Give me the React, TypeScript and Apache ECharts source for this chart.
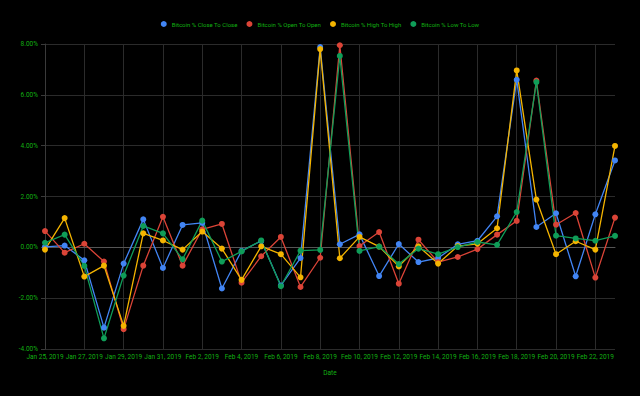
import React, { useEffect, useRef } from "react";
import * as echarts from "echarts";

const dates = [
  "Jan 25, 2019", "Jan 26, 2019", "Jan 27, 2019", "Jan 28, 2019", "Jan 29, 2019",
  "Jan 30, 2019", "Jan 31, 2019", "Feb 1, 2019", "Feb 2, 2019", "Feb 3, 2019",
  "Feb 4, 2019", "Feb 5, 2019", "Feb 6, 2019", "Feb 7, 2019", "Feb 8, 2019",
  "Feb 9, 2019", "Feb 10, 2019", "Feb 11, 2019", "Feb 12, 2019", "Feb 13, 2019",
  "Feb 14, 2019", "Feb 15, 2019", "Feb 16, 2019", "Feb 17, 2019", "Feb 18, 2019",
  "Feb 19, 2019", "Feb 20, 2019", "Feb 21, 2019", "Feb 22, 2019", "Feb 23, 2019",
];

const closeToClose = [
  0.02, 0.07, -0.51, -3.16, -0.64, 1.1, -0.81, 0.88, 0.96, -1.62,
  -0.14, 0.25, -1.5, -0.42, 7.88, 0.12, 0.51, -1.13, 0.13, -0.58,
  -0.42, 0.12, 0.26, 1.22, 6.59, 0.8, 1.34, -1.14, 1.3, 3.42,
];
const openToOpen = [
  0.64, -0.21, 0.14, -0.56, -3.22, -0.72, 1.2, -0.72, 0.71, 0.92,
  -1.39, -0.35, 0.41, -1.56, -0.41, 7.95, 0.05, 0.6, -1.43, 0.3,
  -0.58, -0.38, -0.07, 0.5, 1.04, 6.56, 0.89, 1.35, -1.19, 1.17,
];
const highToHigh = [
  -0.09, 1.15, -1.15, -0.72, -3.09, 0.55, 0.27, -0.09, 0.62, -0.05,
  -1.28, 0.04, -0.27, -1.18, 7.8, -0.43, 0.41, 0.03, -0.75, 0.04,
  -0.64, 0.05, 0.14, 0.75, 6.96, 1.88, -0.27, 0.24, -0.09, 3.99,
];
const lowToLow = [
  0.18, 0.5, -0.73, -3.58, -1.11, 0.84, 0.55, -0.47, 1.05, -0.56,
  -0.16, 0.27, -1.53, -0.13, -0.1, 7.53, -0.14, 0.03, -0.66, -0.05,
  -0.27, 0.01, 0.21, 0.1, 1.39, 6.5, 0.46, 0.35, 0.26, 0.45,
];

const seriesNames = [
  "Bitcoin % Close To Close",
  "Bitcoin % Open To Open",
  "Bitcoin % High To High",
  "Bitcoin % Low To Low",
];
const seriesColors = ["#4285F4", "#DB4437", "#F4B400", "#0F9D58"];
const seriesData = [closeToClose, openToOpen, highToHigh, lowToLow];

const textGreen = "#12b012";
const FONT = "Roboto, sans-serif";

export default function App() {
  const ref = useRef<HTMLDivElement>(null);
  useEffect(() => {
    if (!ref.current) return;
    const chart = echarts.init(ref.current, undefined, { renderer: "svg" });
    chart.setOption({
      animation: false,
      backgroundColor: "#000000",
      textStyle: { fontFamily: FONT },
      legend: {
        top: 16,
        left: "center",
        icon: "circle",
        itemWidth: 6,
        itemHeight: 6,
        itemGap: 9,
        textStyle: { color: textGreen, fontSize: 6, fontFamily: FONT },
        data: seriesNames,
      },
      grid: { left: 45, right: 25, top: 44, bottom: 47 },
      xAxis: {
        type: "category",
        data: dates,
        boundaryGap: false,
        name: "Date",
        nameLocation: "middle",
        nameGap: 20,
        nameTextStyle: { color: textGreen, fontSize: 6.5, fontFamily: FONT },
        axisLine: { show: true, lineStyle: { color: "#555555", width: 1 } },
        axisTick: { show: false },
        axisLabel: { interval: 1, color: textGreen, fontSize: 6.5, margin: 4, fontFamily: FONT },
        splitLine: { show: true, interval: 1, lineStyle: { color: "#2b2b2b", width: 1 } },
      },
      yAxis: {
        type: "value",
        min: -4,
        max: 8,
        interval: 2,
        axisLine: { show: true, lineStyle: { color: "#3a3a3a" } },
        axisTick: { show: true, length: 4, lineStyle: { color: "#3a3a3a" } },
        axisLabel: {
          color: textGreen,
          fontSize: 6.5,
          margin: 7,
          fontFamily: FONT,
          formatter: (v: number) => v.toFixed(2) + "%",
        },
        splitLine: {
          show: true,
          lineStyle: {
            color: ["#2b2b2b", "#2b2b2b", "#8a8a8a", "#2b2b2b", "#2b2b2b", "#2b2b2b", "#2b2b2b"],
            width: 1,
          },
        },
      },
      series: seriesNames.map((name, i) => ({
        name,
        type: "line",
        data: seriesData[i],
        symbol: "circle",
        symbolSize: 6,
        showSymbol: true,
        lineStyle: { width: 1.3, color: seriesColors[i] },
        itemStyle: { color: seriesColors[i] },
      })),
    });
    return () => chart.dispose();
  }, []);
  return (
    <div
      ref={ref}
      style={{ position: "fixed", left: 0, top: 0, width: 640, height: 396 }}
    />
  );
}
